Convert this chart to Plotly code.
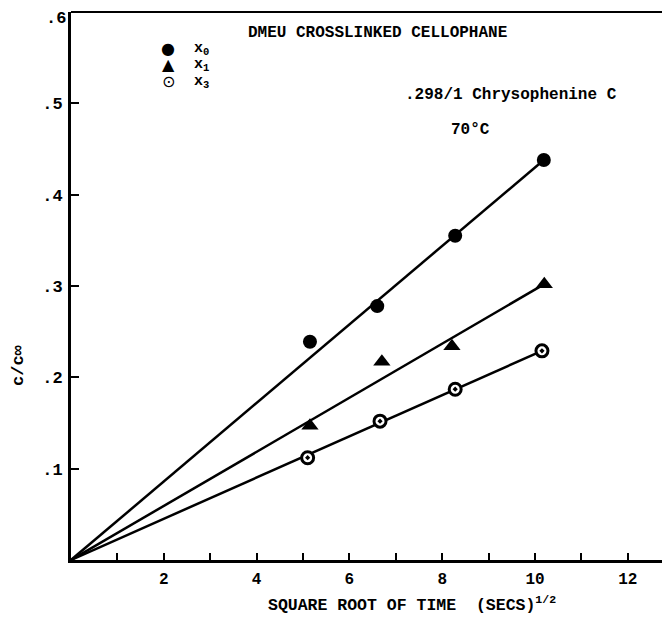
import plotly.graph_objects as go

# ---- data ----
t_x0 = [5.15, 6.6, 8.28, 10.19]
v_x0 = [0.239, 0.278, 0.355, 0.438]
t_x1 = [5.15, 6.7, 8.21, 10.2]
v_x1 = [0.147, 0.217, 0.234, 0.302]
t_x3 = [5.1, 6.66, 8.28, 10.15]
v_x3 = [0.112, 0.152, 0.187, 0.229]

# straight lines drawn from the origin to the last point of each series
line_start = [0, 0]

x_tick_vals = [2, 4, 6, 8, 10, 12]
x_tick_text = ["2", "4", "6", "8", "10", "12"]
y_tick_vals = [0.1, 0.2, 0.3, 0.4, 0.5]
y_tick_text = [".1", ".2", ".3", ".4", ".5"]
y_top_label = ".6"

legend_symbols = ["●", "▲", "⊙"]
legend_labels = ["x<sub>0</sub>", "x<sub>1</sub>", "x<sub>3</sub>"]

FONT = "Liberation Mono"

# page geometry (the page has an 8px body margin)
PAGE_OFF = 8
W, H = 670 - PAGE_OFF, 619 - PAGE_OFF
L, T = 71 - PAGE_OFF, 12 - PAGE_OFF
B = H - (560 - PAGE_OFF)
PW, PH = W - L, H - T - B


def px(x):
    return (x - 71) / PW


def py(y):
    return (560 - y) / PH


def note(text, x, y, size=16, xanchor="center", family=FONT, bold=True, angle=0):
    fig.add_annotation(
        text=text, xref="paper", yref="paper", x=px(x), y=py(y),
        xanchor=xanchor, yanchor="middle", showarrow=False, textangle=angle,
        font=dict(family=family, size=size, color="black",
                  weight="bold" if bold else "normal"))


fig = go.Figure()

series = [
    ("x0", t_x0, v_x0, dict(symbol="circle", size=14, color="black")),
    ("x1", t_x1, v_x1, dict(symbol="triangle-up", size=15, color="black")),
    ("x3", t_x3, v_x3, dict(symbol="circle-dot", size=12, color="white",
                            line=dict(color="black", width=3))),
]

for name, t, v, mk in series:
    fig.add_trace(go.Scatter(
        x=[line_start[0], t[-1]], y=[line_start[1], v[-1]],
        mode="lines", line=dict(color="black", width=2.5),
        showlegend=False, hoverinfo="skip"))

for name, t, v, mk in series:
    fig.add_trace(go.Scatter(
        x=t, y=v, mode="markers", name=name, marker=mk, showlegend=False))

fig.update_layout(
    width=W, height=H,
    margin=dict(l=L, r=0, t=T, b=B),
    paper_bgcolor="white", plot_bgcolor="white",
    font=dict(family=FONT, color="black", size=15),
    showlegend=False,
)

fig.update_xaxes(
    range=[0, PW / 46.4], showgrid=False, zeroline=False,
    showline=True, linecolor="black", linewidth=3,
    tickmode="array", tickvals=x_tick_vals, ticktext=x_tick_text,
    ticks="inside", ticklen=7, tickwidth=2, tickcolor="black",
    minor=dict(dtick=1, ticks="inside", ticklen=7, tickwidth=2, tickcolor="black"),
    tickfont=dict(family=FONT, size=16, color="black", weight="bold"),
    ticklabelstandoff=2,
)

fig.update_yaxes(
    range=[0, 0.6], showgrid=False, zeroline=False,
    showline=True, linecolor="black", linewidth=3,
    tickmode="array", tickvals=y_tick_vals, ticktext=y_tick_text,
    ticks="inside", ticklen=8, tickwidth=2, tickcolor="black",
    tickfont=dict(family=FONT, size=17, color="black", weight="bold"),
    ticklabelstandoff=2,
)

# top frame line
fig.add_shape(type="line", xref="paper", yref="paper", x0=0, x1=1, y0=1, y1=1,
              line=dict(color="black", width=2))

# top y label
note(y_top_label, 68, 18, size=17, xanchor="right")

# x-axis title (slightly right of centre in the reference)
note("SQUARE ROOT OF TIME  (SECS)<sup>1/2</sup>", 412, 604, size=16.5)

# y-axis title (rotated)
note("c/c∞", 18, 365, size=17, angle=-90)

# hand-drawn style legend
leg_y = [48, 64, 81]
for sym, lab, yy in zip(legend_symbols, legend_labels, leg_y):
    note(sym, 168, yy, size=16, family="DejaVu Sans", bold=False)
    note(lab, 192, yy + 1, size=15, xanchor="left")

note("DMEU CROSSLINKED CELLOPHANE", 378, 33)
note(".298/1 Chrysophenine C", 511, 95)
note("70°C", 470, 130)

fig.write_html("out.html")
